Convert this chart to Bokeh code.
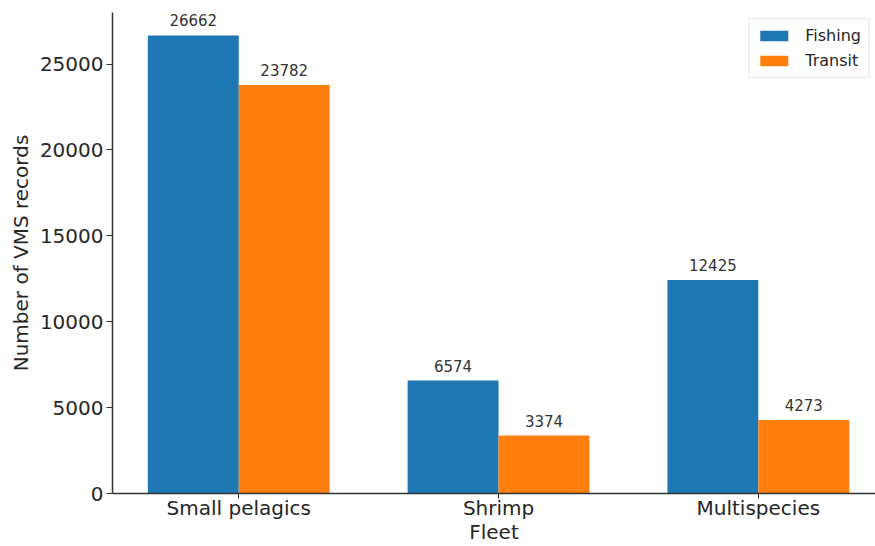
import numpy as np
from bokeh.plotting import figure
from bokeh.models import ColumnDataSource, Range1d, FixedTicker, LabelSet, Legend, LegendItem
from bokeh.transform import dodge
from bokeh.core.properties import value
from bokeh.embed import file_html
from bokeh.resources import INLINE

fleets = ["Small pelagics", "Shrimp", "Multispecies"]
fishing = [26662, 6574, 12425]
transit = [23782, 3374, 4273]
y_ticks = [0, 5000, 10000, 15000, 20000, 25000]

FONT = "DejaVu Sans"
TXT = "#262626"
BLUE = "#1f77b4"
ORANGE = "#ff7f0e"
W = 0.35

idx = list(range(len(fleets)))
src = ColumnDataSource(dict(idx=idx, fleet=fleets, fishing=fishing, transit=transit,
                            fishing_lbl=[str(v) for v in fishing],
                            transit_lbl=[str(v) for v in transit]))

p = figure(width=875, height=546, output_backend="svg", toolbar_location=None,
           x_range=Range1d(-0.486, 2.451), y_range=Range1d(0, 28000),
           min_border_left=112, min_border_right=0, min_border_top=12, min_border_bottom=53)
p.outline_line_color = None
p.xgrid.visible = False
p.ygrid.visible = False
p.background_fill_color = "white"
p.border_fill_color = "white"

r1 = p.vbar(x=dodge("idx", -W / 2, range=p.x_range), top="fishing", width=W, bottom=0,
            source=src, fill_color=BLUE, line_color=BLUE, line_width=0)
r2 = p.vbar(x=dodge("idx", W / 2, range=p.x_range), top="transit", width=W, bottom=0,
            source=src, fill_color=ORANGE, line_color=ORANGE, line_width=0)

for col, lbl, off in [("fishing", "fishing_lbl", -W / 2), ("transit", "transit_lbl", W / 2)]:
    ls = LabelSet(x=dodge("idx", off, range=p.x_range), y=col, text=lbl, source=src,
                  text_align="center", text_baseline="bottom", y_offset=9,
                  text_font=value(FONT), text_font_size=value("15px"), text_color=value("#333333"))
    p.add_layout(ls)

# axes
p.xaxis.ticker = FixedTicker(ticks=idx)
p.xaxis.major_label_overrides = {i: f for i, f in zip(idx, fleets)}
p.yaxis.ticker = FixedTicker(ticks=y_ticks)
p.yaxis.formatter.use_scientific = False
for ax in (p.xaxis[0], p.yaxis[0]):
    ax.axis_line_color = "#333333"
    ax.axis_line_width = 1.5
    ax.major_tick_line_color = "#333333"
    ax.major_tick_out = 6
    ax.major_tick_in = 0
    ax.minor_tick_out = 0
    ax.minor_tick_in = 0
    ax.major_label_text_font = FONT
    ax.major_label_text_font_size = "20px"
    ax.major_label_text_color = TXT
    ax.axis_label_text_font = FONT
    ax.axis_label_text_font_size = "20px"
    ax.axis_label_text_font_style = "normal"
    ax.axis_label_text_color = TXT
p.xaxis.axis_label = "Fleet"
p.yaxis.axis_label = "Number of VMS records"
p.xaxis.major_tick_out = 5
p.xaxis.major_label_standoff = -3
p.xaxis.axis_label_standoff = -3
p.yaxis.major_label_standoff = 3
p.yaxis.axis_label_standoff = 4

legend = Legend(items=[LegendItem(label="Fishing", renderers=[r1]),
                       LegendItem(label="Transit", renderers=[r2])],
                location="top_right", margin=6, padding=7, spacing=6,
                glyph_width=35, glyph_height=13, label_standoff=14,
                label_text_font=FONT, label_text_font_size="16px", label_text_color=TXT,
                border_line_color="#cccccc", border_line_width=1,
                background_fill_color="white", background_fill_alpha=0.8)
p.add_layout(legend)

open("out.html", "w").write(file_html(p, INLINE))
